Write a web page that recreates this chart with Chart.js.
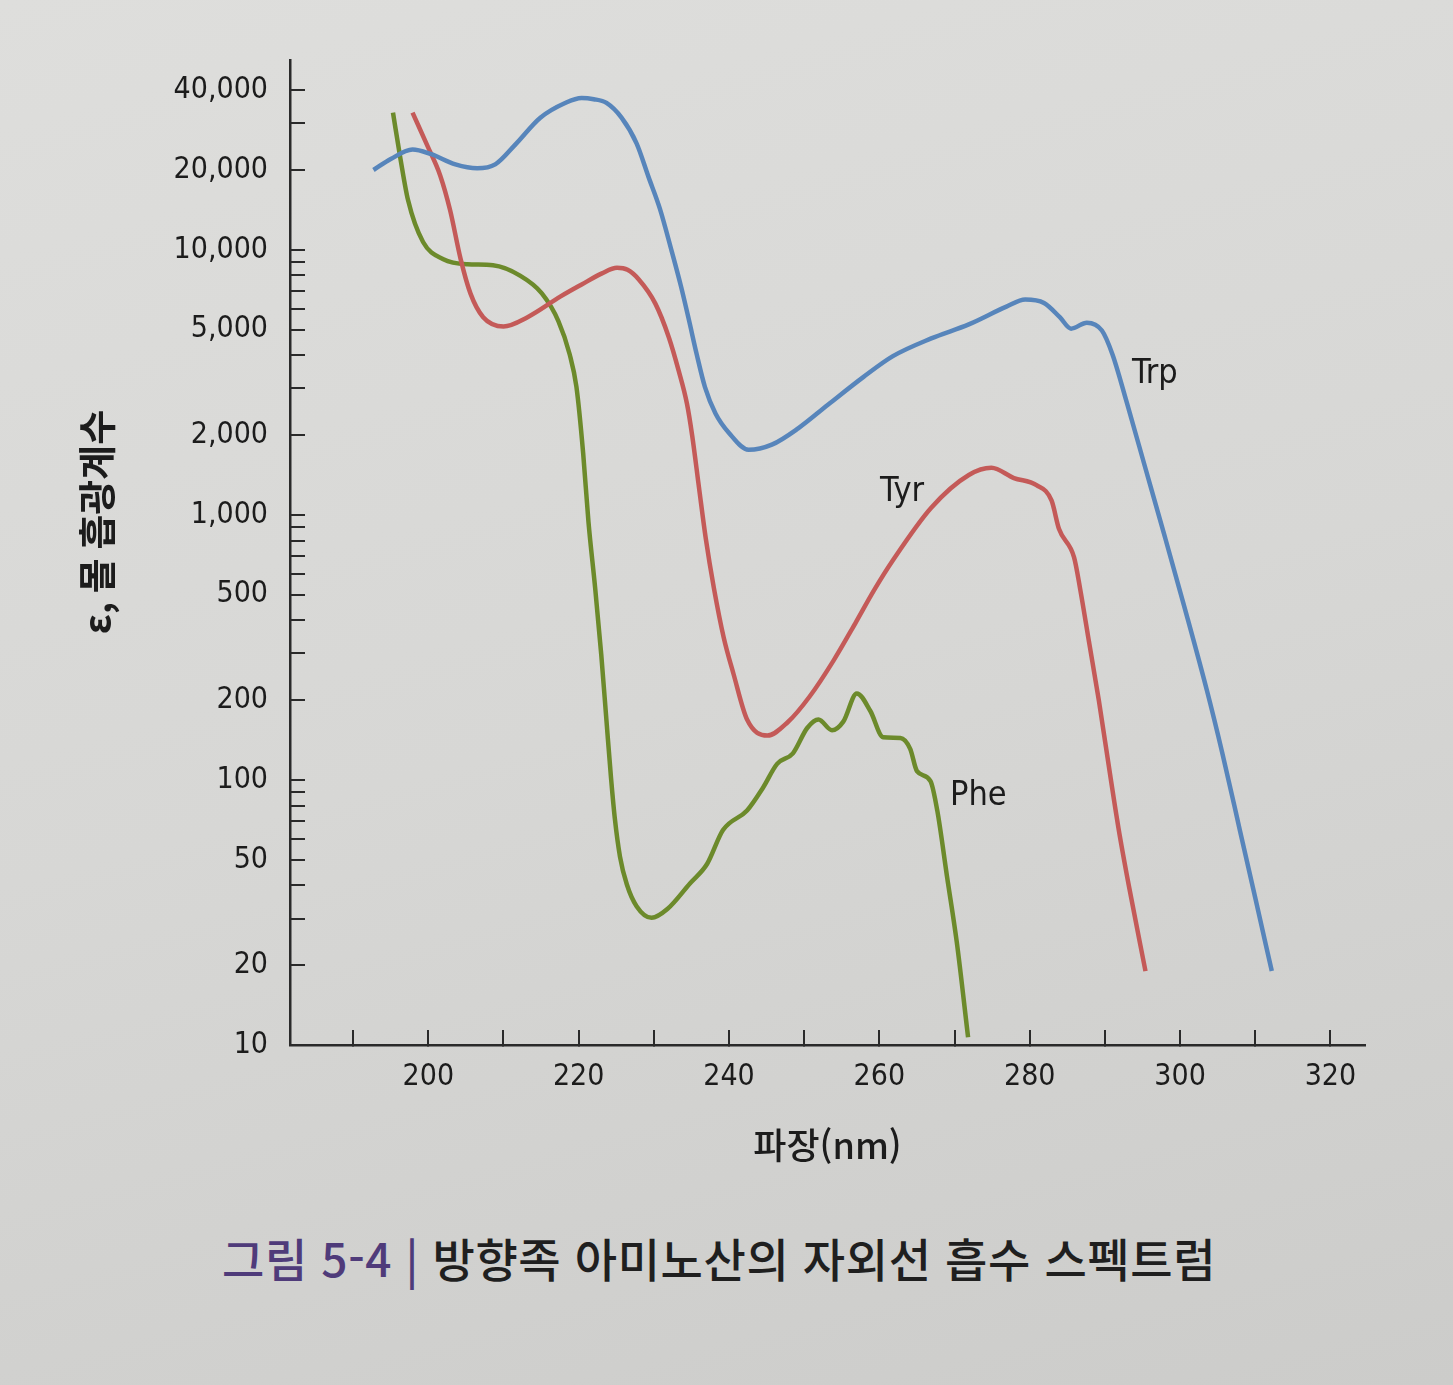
<!DOCTYPE html>
<html lang="ko">
<head>
<meta charset="utf-8">
<script src="https://cdn.jsdelivr.net/npm/chart.js@4.4.1/dist/chart.umd.min.js"></script>
<style>
html,body{margin:0;padding:0;}
body{width:1453px;height:1385px;overflow:hidden;position:relative;
  background:linear-gradient(165deg,#dededc 0%,#d7d7d5 50%,#cccccA 100%);
  font-family:'Noto Sans CJK KR',sans-serif;}
#wrap{position:absolute;left:0;top:0;width:1453px;height:1190px;}
#caption{position:absolute;left:222px;top:1230px;font-size:46px;line-height:54px;letter-spacing:0.6px;color:#1f1f1f;white-space:nowrap;font-weight:500;}
#caption .fig{color:#4f3b7a;}
</style>
</head>
<body>
<div id="wrap"><canvas id="c" width="1453" height="1190"></canvas></div>
<div id="caption"><span class="fig">그림 5-4 |</span> 방향족 아미노산의 자외선 흡수 스펙트럼</div>
<script>
// ---- data ----
const trpWavelength = [192.7,195.0,197.9,200.3,203.6,206.5,208.9,211.6,214.9,218.2,220.4,222.0,223.7,225.7,227.7,229.3,230.8,232.4,233.6,234.7,235.7,236.8,238.2,240.0,242.6,245.7,249.2,253.2,257.9,261.8,266.9,271.9,276.9,279.4,281.9,284.0,285.5,287.6,289.6,291.0,292.9,295.4,298.0,300.6,303.6,305.6,308.0,310.0,312.2];
const trpEpsilon    = [20000,22000,23900,23000,21000,20300,21000,25000,31500,35800,37400,37000,35800,31500,25200,18800,14300,9820,7300,5385,4036,3034,2414,2036,1760,1840,2120,2608,3316,3970,4630,5230,6100,6490,6300,5570,5040,5310,4960,4036,2660,1496,822,447,216,127,63.8,35.9,19];

const tyrWavelength = [197.9,199.9,201.6,202.9,204.3,205.6,207.3,210.0,213.2,217.6,220.4,223.1,225.1,226.5,228.0,230.2,232.0,233.3,234.4,235.1,236.0,236.9,238.0,239.3,240.6,242.4,245.1,247.8,250.7,253.9,256.8,259.3,261.8,266.9,271.9,274.9,277.9,280.9,282.9,283.9,285.9,286.7,287.9,289.2,290.8,291.8,293.2,295.4];
const tyrEpsilon    = [32900,24600,19000,14100,9220,6850,5570,5140,5570,6670,7400,8150,8550,8400,7725,6265,4670,3500,2630,1990,1271,817,527,344,251,169,147,165,206,282,390,520,674,1064,1414,1505,1377,1294,1133,884,691,527,330,199,100,66,39.7,19];

const pheWavelength = [195.3,196.3,197.3,199.3,202.0,205.2,208.6,212.2,215.1,217.3,218.8,219.7,220.6,221.3,222.2,223.0,223.7,224.3,224.8,225.5,226.4,227.7,229.7,231.8,234.8,237.1,239.2,242.4,244.5,246.4,248.5,250.4,251.9,253.7,255.2,257.0,258.8,260.5,262.8,264.1,265.0,266.8,267.7,269.0,270.3,271.8];
const pheEpsilon    = [32900,22000,15400,10700,9220,8820,8740,7990,6850,5385,4036,3042,1704,943,527,298,167,102,72,51.3,40.4,33.4,30.2,32.6,40.7,48.3,64.7,76.7,93.3,115,126,157,169,154,166,212,182,145,144,131,108,99,76.7,43.2,24.4,10.7];

const seriesNames = ['Trp','Tyr','Phe'];
const seriesLabelWavelength = [293.6, 260.1, 269.4];
const seriesLabelEpsilon = [3400, 1215, 87];

const xTickValues  = [190,200,210,220,230,240,250,260,270,280,290,300,310,320];
const xLabelValues = [200,220,240,260,280,300,320];
const yTickValues  = [10,20,30,40,50,60,70,80,90,100,200,300,400,500,600,700,800,900,1000,2000,3000,4000,5000,6000,7000,8000,9000,10000,20000,30000,40000];
const yLabelValues = [10,20,50,100,200,500,1000,2000,5000,10000,20000,40000];

const xTitle = '파장(nm)';
const yTitle = 'ε, 몰 흡광계수';

// ---- styling ----
const INK = '#1c1c1c';
const NARROW = '"DejaVu Sans Condensed","Liberation Sans",sans-serif';
const KR = '"Noto Sans CJK KR","Noto Sans",sans-serif';
const colors = {Trp:'#5785bb', Tyr:'#c45a58', Phe:'#6c8a2b'};

function pts(xs, ys){ return xs.map((x,i)=>({x:x, y:ys[i]})); }

const seriesLabelsPlugin = {
  id:'seriesLabels',
  afterDatasetsDraw(chart){
    const {ctx, scales:{x, y}} = chart;
    ctx.save();
    ctx.font = '34px ' + NARROW;
    ctx.fillStyle = INK;
    ctx.textAlign = 'left';
    ctx.textBaseline = 'middle';
    seriesNames.forEach((n,i)=>{
      ctx.fillText(n, x.getPixelForValue(seriesLabelWavelength[i]), y.getPixelForValue(seriesLabelEpsilon[i]));
    });
    ctx.restore();
  }
};

const yTitlePlugin = {
  id:'yTitle',
  afterDraw(chart){
    const {ctx, chartArea} = chart;
    ctx.save();
    ctx.translate(chartArea.left - 193, chartArea.top + 462);
    ctx.rotate(-Math.PI/2);
    ctx.font = '700 38px ' + KR;
    ctx.fillStyle = INK;
    ctx.textAlign = 'center';
    ctx.textBaseline = 'middle';
    ctx.fillText(yTitle, 0, 0);
    ctx.restore();
  }
};

new Chart(document.getElementById('c'), {
  type:'line',
  data:{
    datasets:[
      {label:'Trp', data:pts(trpWavelength, trpEpsilon), borderColor:colors.Trp},
      {label:'Tyr', data:pts(tyrWavelength, tyrEpsilon), borderColor:colors.Tyr},
      {label:'Phe', data:pts(pheWavelength, pheEpsilon), borderColor:colors.Phe}
    ].map(d=>Object.assign(d,{borderWidth:4.5, pointRadius:0, fill:false, cubicInterpolationMode:'monotone'}))
  },
  options:{
    responsive:false,
    devicePixelRatio:1,
    animation:false,
    layout:{padding:{top:60, right:88, bottom:0, left:0}},
    plugins:{legend:{display:false}, tooltip:{enabled:false}},
    scales:{
      x:{
        type:'linear', position:'bottom', min:181.6, max:324.6,
        afterFit(s){ s.height = 145; },
        afterBuildTicks(s){ s.ticks = xTickValues.map(v=>({value:v})); },
        ticks:{autoSkip:false, maxRotation:0, padding:29, color:INK,
          font:{family:NARROW, size:30},
          callback:(v)=> xLabelValues.includes(v) ? String(v) : ''},
        grid:{drawOnChartArea:false, drawTicks:true, tickLength:-15, color:'#2a2a2a', lineWidth:2},
        border:{display:true, color:'#2a2a2a', width:2.5},
        title:{display:true, text:xTitle, color:INK, font:{family:KR, size:36, weight:'500'}, padding:{top:0,bottom:23}}
      },
      y:{
        type:'logarithmic', position:'left', min:10, max:52000,
        afterFit(s){ s.width = 290; },
        afterBuildTicks(s){ s.ticks = yTickValues.map(v=>({value:v})); },
        ticks:{autoSkip:false, padding:37, color:INK,
          font:{family:NARROW, size:30},
          callback:(v)=> yLabelValues.includes(v) ? v.toLocaleString('en-US') : ''},
        grid:{drawOnChartArea:false, drawTicks:true, tickLength:-15, color:'#2a2a2a', lineWidth:2},
        border:{display:true, color:'#2a2a2a', width:2.5}
      }
    }
  },
  plugins:[seriesLabelsPlugin, yTitlePlugin]
});
</script>
</body>
</html>
